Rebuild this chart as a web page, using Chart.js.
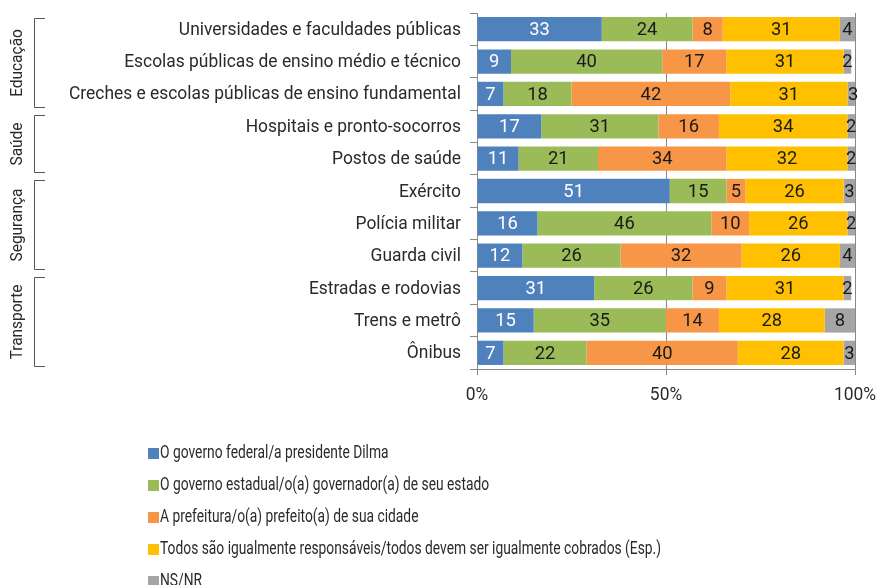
<!DOCTYPE html>
<html><head><meta charset="utf-8">
<script src="https://cdn.jsdelivr.net/npm/chart.js@4/dist/chart.umd.min.js"></script>
<style>
html,body{margin:0;padding:0;background:#fff;}
#wrap{position:relative;width:877px;height:585px;}
#legend{position:absolute;left:148px;top:440px;font-family:Roboto,sans-serif;font-size:18px;color:#2a2a2a;}
#legend div{height:32px;line-height:24px;white-space:nowrap;position:relative;}
#legend span.box{display:inline-block;width:11px;height:11px;vertical-align:-1px;}
#legend span.txt{display:inline-block;transform-origin:0 50%;margin-left:1px;}
</style></head>
<body><div id="wrap"><canvas id="c" width="877" height="585"></canvas><div id="legend"></div></div>
<script>
const categories = ["Universidades e faculdades públicas","Escolas públicas de ensino médio e técnico","Creches e escolas públicas de ensino fundamental","Hospitais e pronto-socorros","Postos de saúde","Exército","Polícia militar","Guarda civil","Estradas e rodovias","Trens e metrô","Ônibus"];
const seriesNames = ["O governo federal/a presidente Dilma","O governo estadual/o(a) governador(a) de seu estado","A prefeitura/o(a) prefeito(a) de sua cidade","Todos são igualmente responsáveis/todos devem ser igualmente cobrados (Esp.)","NS/NR"];
const federal  = [33, 9, 7,17,11,51,16,12,31,15, 7];
const estadual = [24,40,18,31,21,15,46,26,26,35,22];
const prefeit  = [ 8,17,42,16,34, 5,10,32, 9,14,40];
const todos    = [31,31,31,34,32,26,26,26,31,28,28];
const nsnr     = [ 4, 2, 3, 2, 2, 3, 2, 4, 2, 8, 3];
const xTickValues = [0,50,100];
const xTickLabels = ["0%","50%","100%"];
const groups = [{name:"Educação",from:0,to:2},{name:"Saúde",from:3,to:4},{name:"Segurança",from:5,to:7},{name:"Transporte",from:8,to:10}];
const colors = ["#4F81BD","#9BBB59","#F79646","#FFC000","#A5A5A5"];
const labelColors = ["#fff","#1a1a1a","#1a1a1a","#1a1a1a","#1a1a1a"];
const FONT = 'Roboto,sans-serif';
const TXT = '#2a2a2a';
const allSeries = [federal,estadual,prefeit,todos,nsnr];

// horizontal condense factors so the font looks like a condensed face
const mc = document.createElement('canvas').getContext('2d');
mc.font = '18px '+FONT;
const SX = 392 / mc.measureText(categories[2]).width;
const LSX = 501 / mc.measureText(seriesNames[3]).width;

function sText(ctx,txt,x,y,align,size){
  ctx.save();
  ctx.font = size+'px '+FONT;
  ctx.textBaseline='middle';
  ctx.textAlign=align;
  ctx.translate(x,y);
  ctx.scale(SX,1);
  ctx.fillText(txt,0,0);
  ctx.restore();
}

const datasets = allSeries.map((d,i)=>({label:seriesNames[i],data:d,backgroundColor:colors[i],borderWidth:0,categoryPercentage:1,barPercentage:0.75}));

const textPlugin = {
  id:'texts',
  afterDatasetsDraw(chart){
    const ctx=chart.ctx;
    chart.data.datasets.forEach((ds,i)=>{
      const meta=chart.getDatasetMeta(i);
      meta.data.forEach((el,j)=>{
        ctx.fillStyle=labelColors[i];
        sText(ctx,String(ds.data[j]),(el.x+el.base)/2,el.y+1,'center',19);
      });
    });
  },
  afterDraw(chart){
    const ctx=chart.ctx, y=chart.scales.y, x=chart.scales.x;
    ctx.fillStyle=TXT;
    categories.forEach((c,i)=>sText(ctx,c,461,y.getPixelForValue(i)+1,'right',18));
    xTickValues.forEach((v,i)=>sText(ctx,xTickLabels[i],x.getPixelForValue(v),395,'center',18));
    const half=(y.getPixelForValue(1)-y.getPixelForValue(0))/2;
    ctx.save();
    ctx.strokeStyle='#555';ctx.lineWidth=1;
    groups.forEach(g=>{
      const top=Math.round(y.getPixelForValue(g.from)-half+5)+0.5;
      const bot=Math.round(y.getPixelForValue(g.to)+half-3)+0.5;
      ctx.beginPath();
      ctx.moveTo(45,top);ctx.lineTo(34.5,top);ctx.lineTo(34.5,bot);ctx.lineTo(45,bot);
      ctx.stroke();
      ctx.save();
      ctx.translate(18,(top+bot)/2);ctx.rotate(-Math.PI/2);
      ctx.fillStyle=TXT;
      sText(ctx,g.name,0,0,'center',16);
      ctx.restore();
    });
    ctx.restore();
  }
};

new Chart(document.getElementById('c'),{
  type:'bar',
  data:{labels:categories,datasets},
  options:{
    indexAxis:'y',responsive:false,animation:false,
    layout:{padding:{top:13,right:22,bottom:176,left:0}},
    plugins:{legend:{display:false},tooltip:{enabled:false}},
    scales:{
      x:{stacked:true,min:0,max:100,
        afterFit(s){s.height=40;s.paddingLeft=0;s.paddingRight=0;},
        afterBuildTicks(s){s.ticks=xTickValues.map(v=>({value:v}));},
        ticks:{color:'rgba(0,0,0,0)',font:{size:16},padding:8,maxRotation:0,autoSkip:false},
        grid:{color:'#888',lineWidth:1,tickLength:6,drawTicks:true},
        border:{color:'#888',width:1}
      },
      y:{stacked:true,
        afterFit(s){s.width=477;s.paddingTop=0;s.paddingBottom=0;},
        ticks:{color:'rgba(0,0,0,0)',font:{size:16},padding:5},
        grid:{offset:true,drawOnChartArea:false,color:'#888',tickLength:7},
        border:{color:'#888',width:1}
      }
    }
  },
  plugins:[textPlugin]
});

const lg=document.getElementById('legend');
seriesNames.forEach((n,i)=>{
  const d=document.createElement('div');
  const b=document.createElement('span');b.className='box';b.style.background=colors[i];
  const t=document.createElement('span');t.className='txt';t.textContent=n;
  t.style.transform='scaleX('+LSX+')';
  d.appendChild(b);d.appendChild(t);
  lg.appendChild(d);
});
</script></body></html>
